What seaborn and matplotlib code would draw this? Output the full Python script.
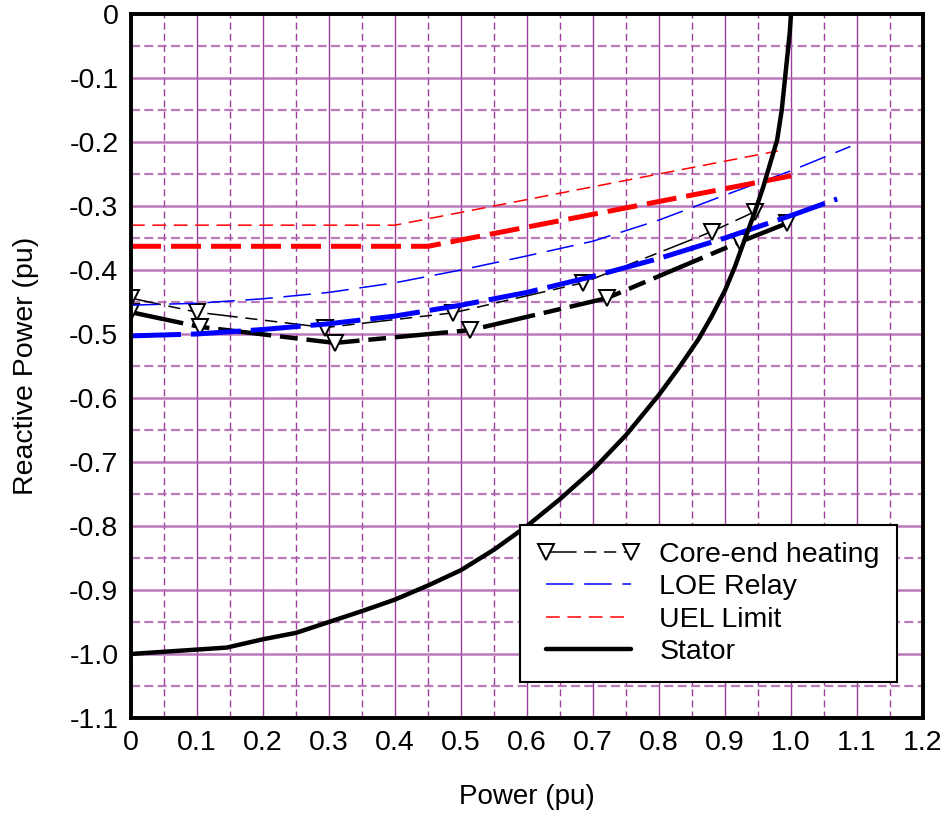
import numpy as np
import pandas as pd
import seaborn as sns
import matplotlib
matplotlib.use("Agg")
import matplotlib.pyplot as plt
from matplotlib.ticker import MultipleLocator

# Core-end heating (two curves, thin and thick)
core_thin_p = [0.0, 0.10, 0.294, 0.488, 0.685, 0.880, 0.945]
core_thin_q = [-0.444, -0.466, -0.490, -0.467, -0.420, -0.340, -0.309]
core_thick_p = [0.0, 0.105, 0.309, 0.514, 0.721, 0.923, 0.994]
core_thick_q = [-0.466, -0.489, -0.514, -0.494, -0.444, -0.356, -0.327]

# LOE relay
loe_thin_p = [0.0, 0.1, 0.2, 0.3, 0.4, 0.5, 0.6, 0.7, 0.8, 0.9, 1.0, 1.09]
loe_thin_q = [-0.455, -0.452, -0.445, -0.435, -0.420, -0.400, -0.378, -0.355,
              -0.322, -0.283, -0.245, -0.207]
loe_thick_p = [0.0, 0.1, 0.2, 0.3, 0.4, 0.5, 0.6, 0.7, 0.8, 0.9, 1.0, 1.07]
loe_thick_q = [-0.503, -0.500, -0.493, -0.484, -0.472, -0.455, -0.435, -0.410,
               -0.382, -0.350, -0.315, -0.289]

# UEL limit
uel_thin_p = [0.0, 0.40, 0.98]
uel_thin_q = [-0.330, -0.330, -0.214]
uel_thick_p = [0.0, 0.45, 1.0]
uel_thick_q = [-0.363, -0.363, -0.253]

# Stator limit
stator_p = [0.0, 0.145, 0.2, 0.25, 0.3, 0.35, 0.4, 0.45, 0.5, 0.55, 0.6, 0.65,
            0.7, 0.75, 0.8, 0.83, 0.86, 0.88, 0.9, 0.915, 0.93, 0.945, 0.958,
            0.968, 0.979, 0.986, 0.991, 0.995, 0.998, 1.0]
stator_q = [-1.0, -0.99, -0.977, -0.967, -0.95, -0.933, -0.915, -0.893, -0.869,
            -0.837, -0.80, -0.758, -0.712, -0.658, -0.595, -0.553, -0.508, -0.472,
            -0.432, -0.395, -0.352, -0.31, -0.27, -0.235, -0.197, -0.15, -0.10,
            -0.06, -0.03, 0.0]

x_ticks = [0, 0.1, 0.2, 0.3, 0.4, 0.5, 0.6, 0.7, 0.8, 0.9, 1.0, 1.1, 1.2]
x_labels = ["0", "0.1", "0.2", "0.3", "0.4", "0.5", "0.6", "0.7", "0.8", "0.9",
            "1.0", "1.1", "1.2"]
y_ticks = [0, -0.1, -0.2, -0.3, -0.4, -0.5, -0.6, -0.7, -0.8, -0.9, -1.0, -1.1]
y_labels = ["0", "-0.1", "-0.2", "-0.3", "-0.4", "-0.5", "-0.6", "-0.7", "-0.8",
            "-0.9", "-1.0", "-1.1"]

sns.set_style("white")
plt.rcParams["font.family"] = ["Liberation Sans", "DejaVu Sans"]
plt.rcParams["font.size"] = 20.5
plt.rcParams["text.color"] = "black"
plt.rcParams["axes.labelcolor"] = "black"
plt.rcParams["xtick.color"] = "black"
plt.rcParams["ytick.color"] = "black"

fig = plt.figure(figsize=(9.43, 8.17), dpi=100)
ax = fig.add_axes([0.1389, 0.1212, 0.8399, 0.8617])

# grid first so the curves sit on top
ax.set_axisbelow(True)
ax.xaxis.set_minor_locator(MultipleLocator(0.05))
ax.yaxis.set_minor_locator(MultipleLocator(0.05))
ax.grid(which="major", axis="x", color="#8c1c8c", lw=1.0, alpha=0.85)
ax.grid(which="minor", axis="x", color="#8c1c8c", lw=1.0, ls=(0, (5, 3)), alpha=0.85)
ax.grid(which="major", axis="y", color="#b060b0", lw=1.8, alpha=0.85)
ax.grid(which="minor", axis="y", color="#b060b0", lw=1.6, ls=(0, (4, 2)), alpha=0.85)


def draw(p, q, color, lw, dashes=None, label="_nolegend_", **kw):
    df = pd.DataFrame({"p": p, "q": q})
    sns.lineplot(data=df, x="p", y="q", sort=False, estimator=None, color=color,
                 linewidth=lw, label=label, ax=ax, **kw)
    line = ax.lines[-1]
    if dashes is not None:
        line.set_dashes(dashes)
    return line


tri = dict(marker="v", markersize=12, markerfacecolor="white",
           markeredgecolor="black", markeredgewidth=1.4)

h_core = draw(core_thin_p, core_thin_q, "black", 1.1, (20, 5, 8, 5, 8, 5),
              "Core-end heating", **tri)
draw(core_thick_p, core_thick_q, "black", 3.2, (12, 2, 4, 2), **tri)
h_loe = draw(loe_thin_p, loe_thin_q, "blue", 1.1, (18, 7))
draw(loe_thick_p, loe_thick_q, "blue", 3.6, (10, 2))
h_uel = draw(uel_thin_p, uel_thin_q, "red", 1.1, (9, 5))
draw(uel_thick_p, uel_thick_q, "red", 3.6, (6, 2))
h_stator = draw(stator_p, stator_q, "black", 3.2, label="Stator")

ax.set_xlim(0, 1.2)
ax.set_ylim(-1.1, 0)
ax.set_xticks(x_ticks)
ax.set_xticklabels(x_labels)
ax.set_yticks(y_ticks)
ax.set_yticklabels(y_labels)
ax.tick_params(which="both", direction="in", length=5, width=1.5,
               color="black", top=False, right=False)
ax.tick_params(axis="both", which="major", pad=9, labelsize=20.5)

for s in ax.spines.values():
    s.set_visible(True)
    s.set_color("black")
    s.set_linewidth(2.8)

ax.set_xlabel("Power (pu)", labelpad=20, fontsize=20)
ax.set_ylabel("Reactive Power (pu)", labelpad=22, fontsize=20.5)

leg = ax.legend([h_core, h_loe, h_uel, h_stator],
                ["Core-end heating", "LOE Relay", "UEL Limit", "Stator"],
                loc="lower right", bbox_to_anchor=(0.967, 0.051), borderaxespad=0,
                numpoints=2, handlelength=3.6, handletextpad=0.7, labelspacing=0.22,
                borderpad=0.6, fancybox=False, framealpha=1, edgecolor="black",
                fontsize=20.5)
leg.get_frame().set_linewidth(1.5)

fig.savefig("out.png", dpi=100)
